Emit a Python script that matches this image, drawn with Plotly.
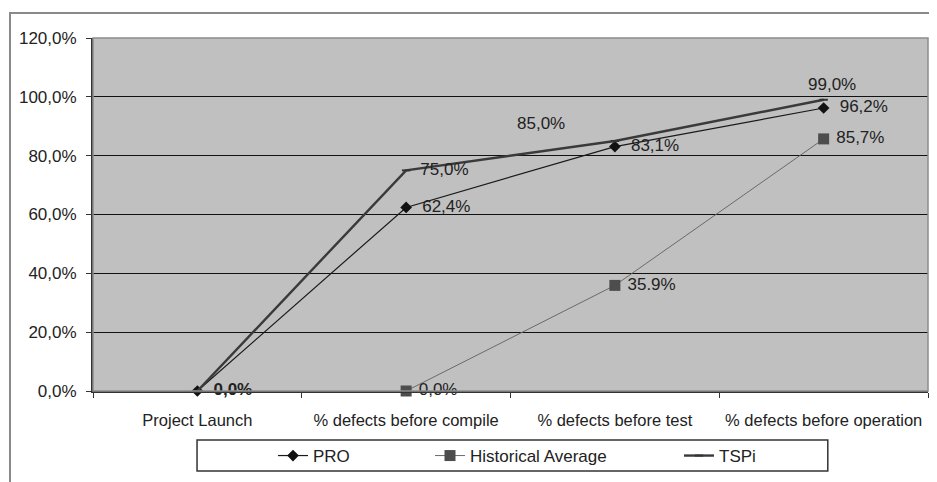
import plotly.graph_objects as go

categories = ["Project Launch", "% defects before compile", "% defects before test", "% defects before operation"]
pro_values = [0.0, 0.624, 0.831, 0.962]
hist_values = [None, 0.0, 0.359, 0.857]
tspi_values = [0.0, 0.75, 0.85, 0.99]
pro_labels = ["<b>0,0%</b>", "62,4%", "83,1%", "96,2%"]
hist_labels = ["", "0,0%", "35.9%", "85,7%"]
tspi_labels = ["", "75,0%", "85,0%", "99,0%"]

FONT = "Liberation Sans, Arial, sans-serif"
TXT = "#222222"
FS = 17
W, H = 929, 474  # page body has an 8px margin; keeps the picture at 937x482

fig = go.Figure()

fig.add_trace(go.Scatter(
    x=categories, y=hist_values, name="Historical Average", mode="lines+markers+text",
    line=dict(color="#6a6a6a", width=1),
    marker=dict(symbol="square", size=11, color="#4d4d4d"),
    text=["\u00a0" + t if t else t for t in hist_labels], textposition="middle right",
    textfont=dict(family=FONT, size=FS, color=TXT),
    legend="legend2", cliponaxis=False,
))
fig.add_trace(go.Scatter(
    x=categories, y=pro_values, name="PRO", mode="lines+markers+text",
    line=dict(color="#1a1a1a", width=1.2),
    marker=dict(symbol="diamond", size=9, color="#111111"),
    text=["\u00a0\u00a0" + t for t in pro_labels], textposition="middle right",
    textfont=dict(family=FONT, size=FS, color=TXT),
    legend="legend", cliponaxis=False,
))
tspi_text = [tspi_labels[0], "\u00a0\u00a0" + tspi_labels[1], "", ""]
fig.add_trace(go.Scatter(
    x=categories, y=tspi_values, name="TSPi", mode="lines+markers+text",
    line=dict(color="#3a3a3a", width=2.4),
    marker=dict(symbol="line-ew-open", size=6, color="#333333", line=dict(width=2, color="#333333")),
    text=tspi_text, textposition="middle right",
    textfont=dict(family=FONT, size=FS, color=TXT),
    legend="legend3", cliponaxis=False,
))

# offset labels for TSPi
fig.add_annotation(x=categories[2], y=tspi_values[2], text=tspi_labels[2], showarrow=False,
                   xshift=-74, yshift=17, font=dict(family=FONT, size=FS, color=TXT))
fig.add_annotation(x=categories[3], y=tspi_values[3], text=tspi_labels[3], showarrow=False,
                   xshift=8, yshift=15, font=dict(family=FONT, size=FS, color=TXT))

# legend box
fig.add_shape(type="rect", xref="paper", yref="paper", x0=0.1246, x1=0.880, y0=-0.2266, y1=-0.1388,
              line=dict(color="#333333", width=1.5), fillcolor="rgba(0,0,0,0)")
# outer chart border
fig.add_shape(type="rect", xref="paper", yref="paper", x0=-0.0994, x1=1.2, y0=-0.5, y1=1.0708,
              line=dict(color="#8a8a8a", width=2), fillcolor="rgba(0,0,0,0)")
# plot area border
fig.add_shape(type="rect", xref="paper", yref="paper", x0=0, x1=1, y0=0, y1=1,
              line=dict(color="#8c8c8c", width=1.5), fillcolor="rgba(0,0,0,0)", layer="above")

leg_y = 1 - 448 / H
leg_common = dict(orientation="h", bgcolor="rgba(0,0,0,0)", borderwidth=0,
                  font=dict(family=FONT, size=FS, color=TXT), xref="container", yref="container",
                  yanchor="middle", xanchor="left", itemwidth=30, y=leg_y)
fig.update_layout(
    width=W, height=H,
    margin=dict(l=85, r=9, t=30, b=91, autoexpand=False),
    paper_bgcolor="white", plot_bgcolor="#c0c0c0",
    separators=",.",
    font=dict(family=FONT, size=FS, color=TXT),
    showlegend=True,
    legend=dict(x=265 / W, **leg_common),
    legend2=dict(x=422 / W, **leg_common),
    legend3=dict(x=671 / W, **leg_common),
    xaxis=dict(type="category", range=[-0.5, 3.5], tickson="boundaries", ticks="outside", ticklen=5,
               tickcolor="#333333", showgrid=False, showline=True, linecolor="#333333", linewidth=1.5,
               tickangle=0, ticklabelstandoff=13, tickfont=dict(family=FONT, size=16.5, color=TXT),
               zeroline=False),
    yaxis=dict(range=[0, 1.2], dtick=0.2, tickformat=".1%", ticks="outside", ticklen=5,
               tickcolor="#333333", showgrid=True, gridcolor="#111111", gridwidth=1.2,
               showline=True, linecolor="#333333", linewidth=2, zeroline=False,
               ticklabelstandoff=6, tickfont=dict(family=FONT, size=FS, color=TXT)),
)

fig.write_html("out.html")
